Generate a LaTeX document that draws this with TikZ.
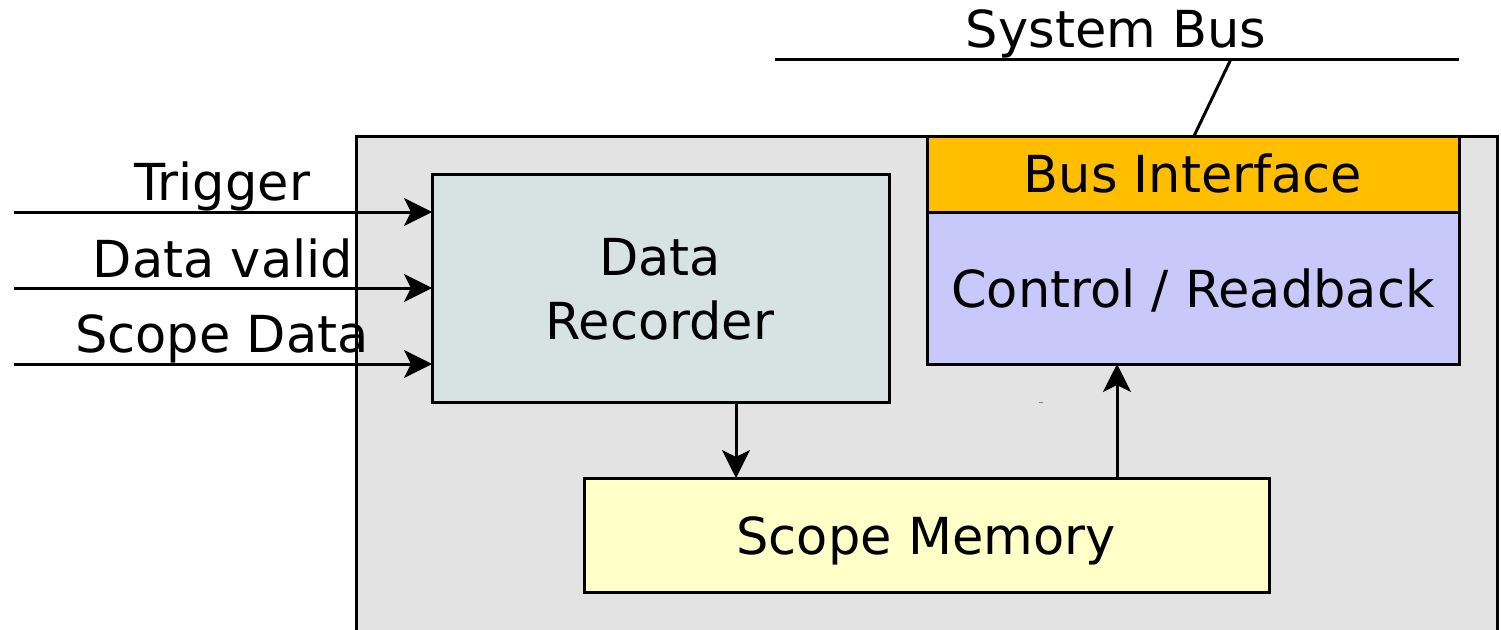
\documentclass[tikz,border=0pt]{standalone}
\usepackage{fontspec}
\setmainfont{DejaVu Sans}
\usetikzlibrary{arrows.meta}
\definecolor{outerfill}{HTML}{E3E3E3}
\definecolor{recfill}{HTML}{D7E3E3}
\definecolor{biffill}{HTML}{FFBF00}
\definecolor{ctlfill}{HTML}{C8C8FA}
\definecolor{memfill}{HTML}{FFFFC8}
\tikzset{
  blk/.style={draw=black, line width=3pt, rectangle, inner sep=0pt, outer sep=0pt},
  lbl/.style={anchor=base, inner sep=0pt, font=\fontsize{51}{64}\selectfont},
  arr/.style={line width=3pt, -{Stealth[length=28pt,width=28pt,inset=7pt]}},
  wire/.style={line width=3pt},
}
\begin{document}
\begin{tikzpicture}[x=1pt,y=-1pt]
\useasboundingbox (0,0) rectangle (1501,629);
\begin{scope}
\clip (0,0) rectangle (1501,629);
\node[blk, fill=outerfill, minimum width=1141pt, minimum height=524pt, anchor=north west] (fpga) at (356,136) {};
\end{scope}
\node[blk, fill=recfill, minimum width=457pt, minimum height=228pt] (rec) at (660.5,288) {};
\node[blk, fill=biffill, minimum width=532pt, minimum height=76pt] (bif) at (1193,174) {};
\node[blk, fill=ctlfill, minimum width=532pt, minimum height=152pt] (ctl) at (1193,288) {};
\node[blk, fill=memfill, minimum width=685pt, minimum height=114pt] (mem) at (926.5,535) {};
% labels
\node[lbl] (lrec1) at (660,275) {Data};
\node[lbl] (lrec2) at (660,339) {Recorder};
\node[lbl] (lbif) at (1193,192) {Bus Interface};
\node[lbl] (lctl) at (1193,307) {Control / Readback};
\node[lbl] (lmem) at (926,554) {Scope Memory};
\node[lbl] (lsys) at (1116,47) {System Bus};
\node[lbl] (ltrig) at (222,200) {Trigger};
\node[lbl] (lvalid) at (223,277) {Data valid};
\node[lbl] (lsdata) at (222,352) {Scope Data};
% inputs
\coordinate (in1) at (14,212);
\coordinate (in2) at (14,288);
\coordinate (in3) at (14,364);
\draw[arr] (in1) -- (rec.west |- in1);
\draw[arr] (in2) -- (rec.west |- in2);
\draw[arr] (in3) -- (rec.west |- in3);
% internal arrows
\coordinate (x1) at (736,0);
\coordinate (x2) at (1117,0);
\draw[arr] (rec.south -| x1) -- (mem.north -| x1);
\draw[arr] (mem.north -| x2) -- (ctl.south -| x2);
% system bus
\coordinate (sb1) at (775,59);
\coordinate (sb2) at (1459,59);
\coordinate (tap) at (1231,59);
\coordinate (x3) at (1194,0);
\draw[wire] (sb1) -- (sb2);
\draw[wire] (tap) -- (bif.north -| x3);
% tiny stray mark
\coordinate (m1) at (1039,402);
\coordinate (m2) at (1043,402);
\draw[gray, line width=1pt] (m1) -- (m2);
\end{tikzpicture}
\end{document}
